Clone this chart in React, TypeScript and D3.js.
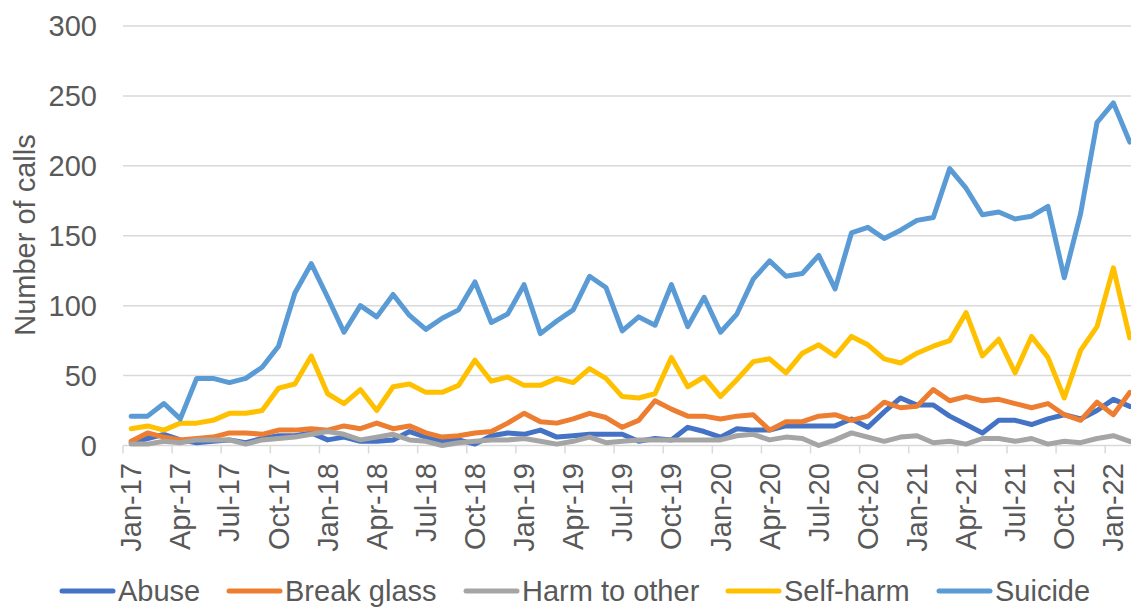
import React from "react";
import * as d3 from "d3";

const months = [
  "Jan-17","Feb-17","Mar-17","Apr-17","May-17","Jun-17","Jul-17","Aug-17","Sep-17","Oct-17","Nov-17","Dec-17",
  "Jan-18","Feb-18","Mar-18","Apr-18","May-18","Jun-18","Jul-18","Aug-18","Sep-18","Oct-18","Nov-18","Dec-18",
  "Jan-19","Feb-19","Mar-19","Apr-19","May-19","Jun-19","Jul-19","Aug-19","Sep-19","Oct-19","Nov-19","Dec-19",
  "Jan-20","Feb-20","Mar-20","Apr-20","May-20","Jun-20","Jul-20","Aug-20","Sep-20","Oct-20","Nov-20","Dec-20",
  "Jan-21","Feb-21","Mar-21","Apr-21","May-21","Jun-21","Jul-21","Aug-21","Sep-21","Oct-21","Nov-21","Dec-21",
  "Jan-22","Feb-22",
];

const abuse = [2,5,8,4,2,3,4,2,5,7,7,9,4,6,3,3,4,10,6,3,4,1,7,9,8,11,6,7,8,8,8,3,5,4,13,10,6,12,11,11,14,14,14,14,19,13,24,34,29,29,21,15,9,18,18,15,19,22,19,25,33,28];
const breakGlass = [3,9,6,4,5,6,9,9,8,11,11,12,11,14,12,16,12,14,9,6,7,9,10,16,23,17,16,19,23,20,13,18,32,26,21,21,19,21,22,11,17,17,21,22,18,21,31,27,28,40,32,35,32,33,30,27,30,22,18,31,22,38];
const harmToOther = [1,1,3,2,4,4,4,1,4,5,6,8,10,8,4,6,8,4,3,0,2,3,4,4,5,3,1,3,6,2,3,4,4,4,4,4,4,7,8,4,6,5,0,4,9,6,3,6,7,2,3,1,5,5,3,5,1,3,2,5,7,3];
const selfHarm = [12,14,11,16,16,18,23,23,25,41,44,64,37,30,40,25,42,44,38,38,43,61,46,49,43,43,48,45,55,48,35,34,37,63,42,49,35,47,60,62,52,66,72,64,78,72,62,59,66,71,75,95,64,76,52,78,63,34,68,85,127,77];
const suicide = [21,21,30,19,48,48,45,48,56,71,109,130,106,81,100,92,108,93,83,91,97,117,88,94,115,80,89,97,121,113,82,92,86,115,85,106,81,94,119,132,121,123,136,112,152,156,148,154,161,163,198,184,165,167,162,164,171,120,166,231,245,217];

const seriesNames = ["Abuse", "Break glass", "Harm to other", "Self-harm", "Suicide"];
const seriesValues = [abuse, breakGlass, harmToOther, selfHarm, suicide];
const seriesColors = ["#4472C4", "#ED7D31", "#A5A5A5", "#FFC000", "#5B9BD5"];
const yTicks = [0, 50, 100, 150, 200, 250, 300];

const W = 1131;
const H = 608;
const FONT = "'Liberation Sans', Arial, sans-serif";
const TXT = "#595959";
const FS = 29;

export default function App() {
  const left = 123;
  const step = 16.37;
  const x = d3.scaleBand<string>().domain(months).range([left, left + months.length * step]).padding(0);
  const y = d3.scaleLinear().domain([0, 300]).range([445.5, 26]);
  const cx = (m: string) => (x(m) as number) + x.bandwidth() / 2;

  const line = d3
    .line<number>()
    .x((_, i) => cx(months[i]))
    .y((d) => y(d));

  const tickIdx = months.map((_, i) => i).filter((i) => i % 3 === 0);
  const legendStarts = [60, 227, 464, 726, 937];
  const legendY = 591;

  return (
    <svg width={W} height={H} style={{ position: "absolute", left: 0, top: 0, background: "#fff" }}>
      {yTicks.map((t) => (
        <line key={"g" + t} x1={left} x2={W} y1={y(t)} y2={y(t)} stroke="#D9D9D9" strokeWidth={1.5} />
      ))}
      {tickIdx.map((i) => (
        <line
          key={"t" + i}
          x1={x(months[i]) as number}
          x2={x(months[i]) as number}
          y1={y(0)}
          y2={y(0) + 8}
          stroke="#D9D9D9"
          strokeWidth={1.5}
        />
      ))}
      {yTicks.map((t) => (
        <text
          key={"yl" + t}
          x={97}
          y={y(t)}
          textAnchor="end"
          dominantBaseline="central"
          fontFamily={FONT}
          fontSize={FS}
          fill={TXT}
        >
          {t}
        </text>
      ))}
      <text
        transform="translate(25,235) rotate(-90)"
        textAnchor="middle"
        dominantBaseline="central"
        fontFamily={FONT}
        fontSize={FS}
        fill={TXT}
      >
        Number of calls
      </text>
      {tickIdx.map((i) => (
        <text
          key={"xl" + i}
          transform={`translate(${cx(months[i])},463) rotate(-90)`}
          textAnchor="end"
          dominantBaseline="central"
          fontFamily={FONT}
          fontSize={FS}
          fill={TXT}
        >
          {months[i]}
        </text>
      ))}
      {seriesValues.map((vals, si) => (
        <path
          key={"s" + si}
          d={line(vals) as string}
          fill="none"
          stroke={seriesColors[si]}
          strokeWidth={5}
          strokeLinejoin="round"
          strokeLinecap="round"
        />
      ))}
      {seriesNames.map((n, si) => (
        <g key={"lg" + si}>
          <line
            x1={legendStarts[si] + 2}
            x2={legendStarts[si] + 53}
            y1={legendY}
            y2={legendY}
            stroke={seriesColors[si]}
            strokeWidth={5}
            strokeLinecap="round"
          />
          <text
            x={legendStarts[si] + 58}
            y={legendY}
            dominantBaseline="central"
            fontFamily={FONT}
            fontSize={FS}
            fill={TXT}
          >
            {n}
          </text>
        </g>
      ))}
    </svg>
  );
}
